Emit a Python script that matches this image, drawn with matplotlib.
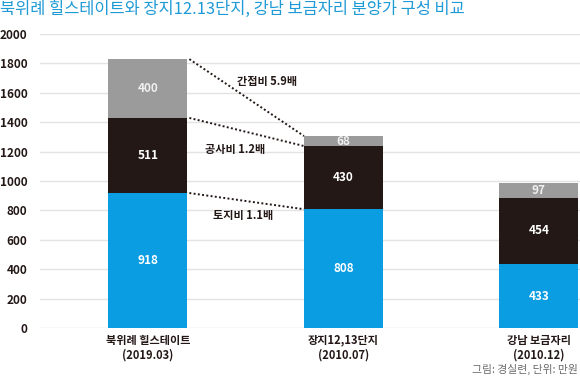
import numpy as np
import matplotlib
matplotlib.use("Agg")
import matplotlib.pyplot as plt

plt.rcParams['font.family'] = ['Noto Sans CJK KR', 'DejaVu Sans']

# data (만원)
categories = ['북위례 힐스테이트\n(2019.03)', '장지12,13단지\n(2010.07)', '강남 보금자리\n(2010.12)']
land = [918, 808, 433]        # 토지비
build = [511, 430, 454]       # 공사비
indirect = [400, 68, 97]      # 간접비
ratio_labels = ['토지비 1.1배', '공사비 1.2배', '간접비 5.9배']
yticks = [0, 200, 400, 600, 800, 1000, 1200, 1400, 1600, 1800, 2000]

c_land = '#0a9de2'
c_build = '#231815'
c_ind = '#9b9b9b'
c_text = '#231815'

fig = plt.figure(figsize=(5.8, 3.76), dpi=100)
ax = fig.add_axes([40/580, 48/376, 540/580, 294/376])

x = np.arange(len(categories))
w = 0.404
land = np.array(land)
build = np.array(build)
indirect = np.array(indirect)

ax.bar(x, land, w, color=c_land, zorder=3)
ax.bar(x, build, w, bottom=land, color=c_build, zorder=3)
ax.bar(x, indirect, w, bottom=land + build, color=c_ind, zorder=3)

# value labels
for i in range(len(x)):
    ax.text(x[i], land[i] / 2, str(land[i]), ha='center', va='center',
            color='white', fontsize=8.5, fontweight='bold', zorder=4)
    ax.text(x[i], land[i] + build[i] / 2, str(build[i]), ha='center', va='center',
            color='white', fontsize=8.5, fontweight='bold', zorder=4)
    ax.text(x[i], land[i] + build[i] + indirect[i] / 2, str(indirect[i]),
            ha='center', va='center', color='#f0f0f0', fontsize=8.5,
            fontweight='bold', zorder=4)

# dotted connectors between bar 1 and bar 2
tops0 = [land[0], land[0] + build[0], land[0] + build[0] + indirect[0]]
tops1 = [land[1], land[1] + build[1], land[1] + build[1] + indirect[1]]
x0 = x[0] + w / 2 + 0.01
x1 = x[1] - w / 2
for a, b in zip(tops0, tops1):
    ax.plot([x0, x1], [a, b], ls=(0, (1, 1.2)), color=c_text, lw=1.4, zorder=4)

# ratio annotations
ax.text(0.488, 765, ratio_labels[0], ha='center', va='center', color=c_text,
        fontsize=8, fontweight='bold')
ax.text(0.445, 1213, ratio_labels[1], ha='center', va='center', color=c_text,
        fontsize=8, fontweight='bold')
ax.text(0.61, 1675, ratio_labels[2], ha='center', va='center', color=c_text,
        fontsize=8, fontweight='bold')

ax.set_xlim(-0.552, 2.21)
ax.set_ylim(0, 2000)
ax.set_yticks(yticks)
ax.set_yticklabels([str(v) for v in yticks], fontsize=8.5, fontweight='bold',
                   color=c_text)
ax.set_xticks(x)
ax.set_xticklabels(categories, fontsize=8, fontweight='bold', color=c_text,
                   linespacing=1.2)
ax.tick_params(axis='both', length=0)
ax.tick_params(axis='y', pad=9)
ax.tick_params(axis='x', pad=4)
ax.grid(axis='y', color='#e3e3e3', lw=1, zorder=0)
for s in ax.spines.values():
    s.set_visible(False)

fig.text(0.0, 1 - 9/376, '북위례 힐스테이트와 장지12.13단지, 강남 보금자리 분양가 구성 비교',
         ha='left', va='center', color='#1e9ad6', fontsize=11.85)
fig.text(1 - 2/580, 1 - 369/376, '그림: 경실련, 단위: 만원', ha='right', va='center',
         color='#6b6b6b', fontsize=7.8)

fig.savefig('out.png', dpi=100)
